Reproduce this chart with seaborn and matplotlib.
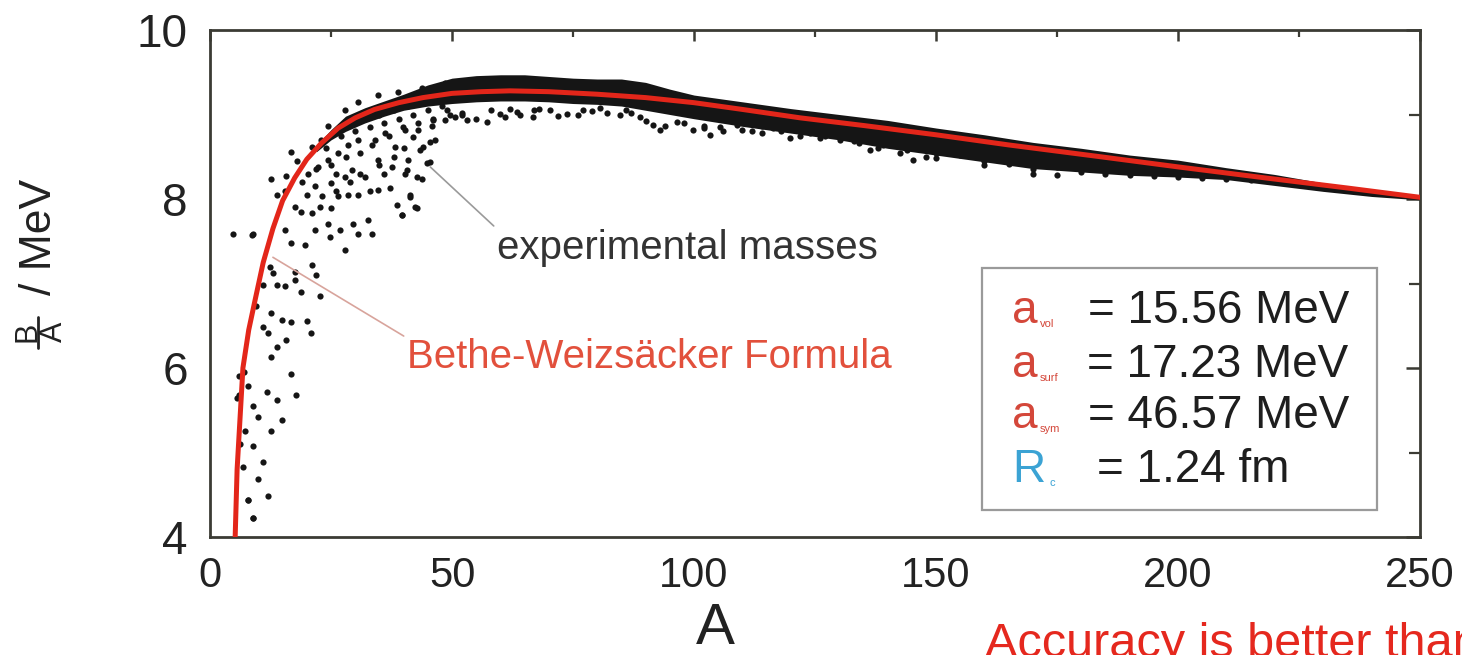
import numpy as np
import pandas as pd
import matplotlib
matplotlib.use("Agg")
import matplotlib.pyplot as plt
from matplotlib.lines import Line2D
from matplotlib.ticker import MultipleLocator
import seaborn as sns

# ---------------- data ----------------
# Bethe-Weizsaecker curve (red)
A_fit = [5.2, 5.6, 6.8, 8, 9.3, 11, 13, 15, 17.5, 20, 23, 26.5, 30, 34, 39, 44, 50, 56,
         62, 70, 80, 90, 100, 110, 122, 135, 150, 165, 184, 200, 218, 235, 250]
BA_fit = [4.0, 4.8, 6.0, 6.45, 6.8, 7.25, 7.65, 7.98, 8.25, 8.47, 8.66, 8.84, 8.96, 9.06,
          9.14, 9.2, 9.25, 9.27, 9.28, 9.27, 9.24, 9.2, 9.14, 9.06, 8.96, 8.87, 8.76, 8.64,
          8.5, 8.38, 8.25, 8.13, 8.02]

# dense core of the experimental band (upper / lower edge)
A_band = [22, 25, 28, 32, 36, 40, 45, 50, 55, 60, 65, 70, 75, 80, 85, 90, 95, 100, 110, 120,
          130, 140, 150, 160, 170, 180, 190, 200, 210, 220, 230, 240, 250]
band_hi = [8.64, 8.82, 8.98, 9.08, 9.16, 9.24, 9.35, 9.43, 9.46, 9.47, 9.47, 9.45, 9.43,
           9.42, 9.42, 9.38, 9.30, 9.23, 9.15, 9.07, 9.00, 8.93, 8.84, 8.76, 8.67, 8.60,
           8.52, 8.46, 8.37, 8.29, 8.19, 8.11, 8.04]
band_lo = [8.56, 8.70, 8.80, 8.90, 8.98, 9.05, 9.10, 9.13, 9.15, 9.16, 9.16, 9.15, 9.13,
           9.12, 9.10, 9.05, 9.00, 8.95, 8.86, 8.78, 8.70, 8.60, 8.52, 8.44, 8.36, 8.32,
           8.28, 8.26, 8.23, 8.16, 8.09, 8.03, 7.99]

# individual experimental masses (scattered points)
A_exp = [12.4, 13.1, 17.6, 21.0, 22.0, 11.0, 13.8, 15.5, 17.6, 18.9, 22.7, 9.6, 12.7, 14.8,
         16.7, 20.0, 20.9, 11.0, 12.0, 15.8, 13.8, 12.7, 16.7, 5.9, 7.9, 5.9, 11.7, 13.8,
         17.7, 8.9, 10.0, 14.8, 7.2, 12.7, 8.9, 11.0, 6.9, 10.0, 7.9, 11.9, 8.9,
         4.8, 8.9, 16.7, 12.7, 15.8, 13.8, 15.5, 17.6, 18.9, 15.5, 16.7, 19.6, 21.7, 24.8,
         26.9, 24.4, 27.9, 30.6, 33.4, 29.6, 32.7, 21.0, 22.7, 25.1, 26.5, 28.6, 30.6, 23.1,
         21.7, 25.1, 27.9, 29.3, 32.0, 34.8, 37.2, 38.6, 39.6, 41.3, 42.7, 40.3, 43.7, 45.5,
         46.5, 44.1, 41.0, 37.5, 34.8, 33.4, 36.2, 38.2, 40.3, 43.0, 45.8, 48.6, 50.6, 30.6,
         28.6, 26.5, 24.4, 22.4, 20.3, 21.0, 24.4, 27.9, 30.6, 34.8, 38.9, 43.7, 48.6,
         5.5, 7.9, 8.9, 8.7, 6.2, 7.0,
         39.9, 42.0, 43.4, 45.5, 44.8, 40.6, 42.7, 41.3, 42.4, 39.6, 46.1, 49.6, 53.1, 57.2,
         59.9, 63.4, 66.8, 70.2, 73.7, 77.1, 80.6, 84.7, 88.8, 91.6, 93.0, 96.5, 99.8, 103.3,
         105.4, 108.9, 116.3, 119.8, 124.0, 130.2, 136.4, 139.1, 142.6, 145.2,
         52.0, 62.0, 68.0, 79.0, 87.0, 102.0, 112.0, 114.0, 127.0, 133.0,
         150, 150, 155, 160, 160, 165, 170, 170, 175, 175, 180, 185, 185, 190, 195, 195,
         200, 205, 205, 210, 215,
         19, 20, 23, 24, 25, 26, 27, 28, 29, 30, 31, 32, 33, 34, 35, 36, 37, 38, 39, 40,
         41, 42, 43, 44, 45, 46, 47, 48, 49, 18, 22, 26, 29, 31, 35, 33, 36, 38,
         52, 55, 58, 61, 64, 67, 72, 76, 82, 86, 90, 94, 98, 102, 106, 110, 114, 118,
         122, 126, 134, 138, 144, 148]
BA_exp = [7.20, 7.12, 7.14, 7.22, 7.10, 6.98, 6.98, 6.97, 7.04, 6.90, 6.85, 6.73, 6.65, 6.57,
          6.54, 6.56, 6.41, 6.49, 6.41, 6.33, 6.25, 6.13, 5.93, 5.90, 5.79, 5.68, 5.72, 5.62,
          5.68, 5.55, 5.42, 5.38, 5.26, 5.25, 5.08, 4.89, 4.83, 4.69, 4.44, 4.48, 4.23,
          7.59, 7.59, 8.56, 8.24, 8.27, 8.05, 8.09, 7.91, 7.85, 7.63, 7.48, 7.46, 7.63, 7.55,
          7.63, 7.71, 7.40, 7.59, 7.59, 7.71, 7.75, 7.83, 7.91, 7.89, 8.03, 8.05, 8.05, 8.03,
          8.15, 8.19, 8.26, 8.34, 8.26, 8.11, 8.13, 7.93, 7.81, 8.05, 7.89, 8.30, 8.24, 8.44,
          8.70, 8.62, 8.46, 8.38, 8.46, 8.64, 8.78, 8.62, 8.82, 8.82, 8.86, 8.93, 8.97, 8.70,
          8.64, 8.54, 8.46, 8.38, 8.30, 8.62, 8.86, 9.05, 9.15, 9.23, 9.27, 9.31, 9.37,
          5.65, 4.44, 4.22, 7.57, 5.10, 5.95,
          8.85, 8.73, 8.58, 8.68, 8.43, 8.34, 8.26, 8.02, 7.91, 7.81, 8.93, 8.99, 8.93, 8.91,
          9.01, 9.03, 8.97, 9.05, 9.01, 9.05, 9.08, 8.99, 8.97, 8.88, 8.82, 8.91, 8.82, 8.76,
          8.85, 8.88, 8.84, 8.72, 8.78, 8.70, 8.58, 8.64, 8.54, 8.46,
          9.02, 9.06, 9.07, 9.04, 9.02, 8.86, 8.80, 8.86, 8.74, 8.69,
          8.55, 8.48, 8.52, 8.45, 8.40, 8.42, 8.35, 8.30, 8.28, 8.38, 8.32, 8.30, 8.36, 8.28,
          8.27, 8.33, 8.26, 8.25, 8.30, 8.24, 8.22,
          8.20, 8.05, 8.70, 8.60, 8.40, 8.30, 8.75, 8.50, 8.90, 8.80, 8.55, 8.95, 8.85, 8.70,
          9.00, 8.90, 8.75, 9.05, 8.95, 8.60, 9.10, 9.00, 8.90, 9.15, 9.05, 8.95, 9.20, 9.10,
          9.05, 8.45, 8.35, 8.10, 8.20, 8.30, 8.40, 8.10, 8.30, 8.50,
          9.00, 8.95, 9.05, 8.97, 9.00, 9.05, 8.98, 9.00, 9.02, 9.05, 8.92, 8.86, 8.90, 8.84,
          8.80, 8.82, 8.78, 8.80, 8.74, 8.72, 8.66, 8.60, 8.58, 8.50]

x_ticks = [0, 50, 100, 150, 200, 250]
y_ticks = [4, 6, 8, 10]

# ---------------- style ----------------
sns.set_theme(style="white")
plt.rcParams["font.family"] = ["Liberation Sans", "DejaVu Sans"]

W, H = 1462, 655
fig = plt.figure(figsize=(W / 100, H / 100), dpi=100, facecolor="white")
ax = fig.add_axes([210 / W, 1 - 537 / H, (1420 - 210) / W, (537 - 30) / H])
ax.set_facecolor("white")

spine_col = "#3b3b34"
ink = "#151515"
red = "#e3261a"
txt = "#222222"

# dense band
ax.fill_between(A_band, band_lo, band_hi, color=ink, linewidth=0, zorder=2)

exp_df = pd.DataFrame({"A": A_exp, "BA": BA_exp})
sns.scatterplot(data=exp_df, x="A", y="BA", ax=ax, color=ink, s=20, linewidth=0,
                marker="o", zorder=3, legend=False)

fit_df = pd.DataFrame({"A": A_fit, "BA": BA_fit})
sns.lineplot(data=fit_df, x="A", y="BA", ax=ax, color=red, linewidth=3.6,
             zorder=4, legend=False, sort=False)

ax.set_xlim(0, 250)
ax.set_ylim(4, 10)
ax.set_xticks(x_ticks)
ax.set_yticks(y_ticks)
ax.xaxis.set_minor_locator(MultipleLocator(25))
ax.yaxis.set_minor_locator(MultipleLocator(1))

for s in ax.spines.values():
    s.set_visible(True)
    s.set_color(spine_col)
    s.set_linewidth(2.0)

ax.tick_params(axis="x", which="major", direction="out", length=8, width=1.8,
               color=spine_col, labelsize=30, labelcolor=txt, pad=6)
ax.tick_params(axis="y", which="major", direction="out", length=12, width=1.8,
               color=spine_col, labelsize=33, labelcolor=txt, pad=4)
ax.tick_params(axis="x", which="minor", direction="out", length=5, width=1.6,
               color=spine_col)
ax.tick_params(axis="y", which="minor", direction="out", length=10, width=1.6,
               color=spine_col)
ax.tick_params(top=False, right=False, which="both")
# top/right ticks point inward
sec_x = ax.secondary_xaxis("top")
sec_x.set_xticks(x_ticks)
sec_x.xaxis.set_minor_locator(MultipleLocator(25))
sec_x.tick_params(which="major", direction="in", length=8, width=1.8, color=spine_col,
                  labeltop=False)
sec_x.tick_params(which="minor", direction="in", length=5, width=1.6, color=spine_col)
sec_y = ax.secondary_yaxis("right")
sec_y.set_yticks(y_ticks)
sec_y.yaxis.set_minor_locator(MultipleLocator(1))
sec_y.tick_params(which="major", direction="in", length=10, width=1.8, color=spine_col,
                  labelright=False)
sec_y.tick_params(which="minor", direction="in", length=8, width=1.6, color=spine_col)
for s in list(sec_x.spines.values()) + list(sec_y.spines.values()):
    s.set_visible(False)

ax.set_xlabel("A", fontsize=42, color=txt)
ax.xaxis.set_label_coords((715 - 210) / 1210, -0.128)
ax.set_ylabel("")


def px(x, y):
    return x / W, 1 - y / H


# y-axis label: B over A (fraction), then "/ MeV", all rotated
fig.text(*px(51, 237), "/ MeV", fontsize=32, color=txt, rotation=90,
         rotation_mode="anchor", ha="center", va="baseline")
fig.text(*px(27.5, 332), "B", fontsize=22, color=txt, rotation=90,
         ha="center", va="center")
fig.text(*px(53.5, 332), "A", fontsize=22, color=txt, rotation=90,
         ha="center", va="center")
fig.add_artist(Line2D([37.5 / W, 37.5 / W], [1 - 317 / H, 1 - 348 / H],
                      transform=fig.transFigure, color=txt, linewidth=2.0))

# annotations
ax.annotate("experimental masses", xy=(45.5, 8.38), xytext=(59.3, 7.42),
            fontsize=29, color="#333333", ha="left", va="center",
            arrowprops=dict(arrowstyle="-", color="#9a9a9a", lw=1.2,
                            shrinkA=0, shrinkB=0, relpos=(0.0, 1.0)))
ax.annotate("Bethe-Weizsäcker Formula", xy=(13.0, 7.31), xytext=(40.7, 6.13),
            fontsize=29, color="#e2503c", ha="left", va="center",
            arrowprops=dict(arrowstyle="-", color="#d8a49c", lw=1.2,
                            shrinkA=0, shrinkB=0, relpos=(0.0, 1.0)))

# parameter box
box = plt.Rectangle(px(982, 510), (1377 - 982) / W, (510 - 268) / H,
                    transform=fig.transFigure, facecolor="white",
                    edgecolor="#9a9a9a", linewidth=1.6, zorder=5)
fig.patches.append(box)

a_col = "#d4473a"
c_col = "#3ba3d4"
big = 33
lines = [("a", "vol", "= 15.56 MeV", 323, 1088, a_col),
         ("a", "surf", "= 17.23 MeV", 377, 1087, a_col),
         ("a", "sym", "= 46.57 MeV", 428, 1088, a_col),
         ("R", "c", "= 1.24 fm", 482, 1097, c_col)]
for sym, sub, val, base, xv, col in lines:
    fig.text(*px(1012, base), sym, fontsize=big, color=col, va="baseline", ha="left",
             zorder=6)
    fig.text(*px(1040 if sym == "a" else 1049, base + 4), sub, fontsize=8, color=col,
             va="baseline", ha="left", zorder=6)
    fig.text(*px(xv, base), val, fontsize=big, color="#1e1e1e", va="baseline",
             ha="left", zorder=6)

fig.text(*px(985, 657), "Accuracy is better than", fontsize=35, color="#e5281e",
         va="baseline", ha="left")

fig.savefig("out.png", dpi=100, facecolor="white")
